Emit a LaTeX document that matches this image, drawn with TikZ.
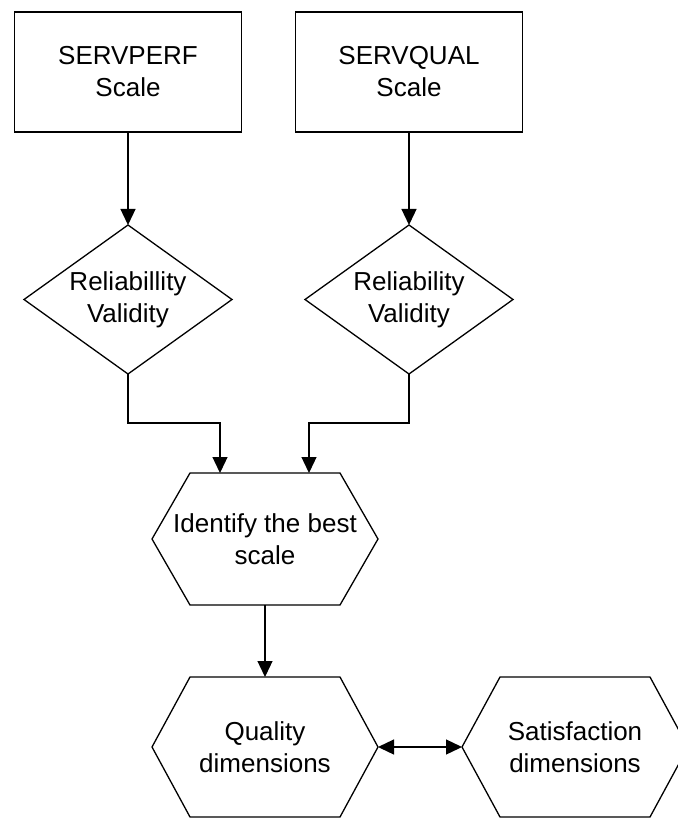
\documentclass[tikz,border=0pt]{standalone}
\usepackage{fontspec}
\setmainfont{Liberation Sans}
\usetikzlibrary{arrows.meta, positioning, calc, shapes.geometric}

\begin{document}
\begin{tikzpicture}[x=1pt, y=-1pt, line width=1.3pt,
  every node/.style={font=\fontsize{26}{32}\selectfont, align=center, inner sep=0pt, outer sep=0pt},
  scalebox/.style={draw, rectangle, minimum width=227pt, minimum height=120pt},
  checkbox/.style={draw, diamond, aspect=1.4, minimum width=208pt, minimum height=149pt},
  hexbox/.style={minimum width=226pt, minimum height=#1},
  arr/.style={-{Triangle[length=16pt, width=15pt]}},
  twoarr/.style={{Triangle[length=16pt, width=15pt]}-{Triangle[length=16pt, width=15pt]}}]
  \useasboundingbox (0,0) rectangle (677,821);
  % scales
  \node[scalebox] (perf) at (128,72) {SERVPERF\\Scale};
  \node[scalebox, right=54pt of perf] (qual) {SERVQUAL\\Scale};
  % checks
  \node[checkbox, below=93pt of perf] (rv1) {Reliabillity\\Validity};
  \node[checkbox, below=93pt of qual] (rv2) {Reliability\\Validity};
  % hexagons
  \node[hexbox=132pt] (best) at (265,539) {Identify the best\\scale};
  \node[hexbox=140pt, below=72pt of best] (qdim) {Quality\\dimensions};
  \node[hexbox=140pt, right=84pt of qdim] (sdim) {Satisfaction\\dimensions};
  \foreach \h in {best, qdim, sdim}
    \draw ([xshift=38pt]\h.north west) -- ([xshift=-38pt]\h.north east) -- (\h.east)
      -- ([xshift=-38pt]\h.south east) -- ([xshift=38pt]\h.south west) -- (\h.west) -- cycle;
  % connectors
  \draw[arr] (perf) -- (rv1);
  \draw[arr] (qual) -- (rv2);
  \draw[arr] (rv1.south) -- ++(0,49) -| ([xshift=-45pt]best.north);
  \draw[arr] (rv2.south) -- ++(0,49) -| ([xshift=44pt]best.north);
  \draw[arr] (best) -- (qdim);
  \draw[twoarr] (qdim.east) -- (sdim.west);
\end{tikzpicture}
\end{document}
